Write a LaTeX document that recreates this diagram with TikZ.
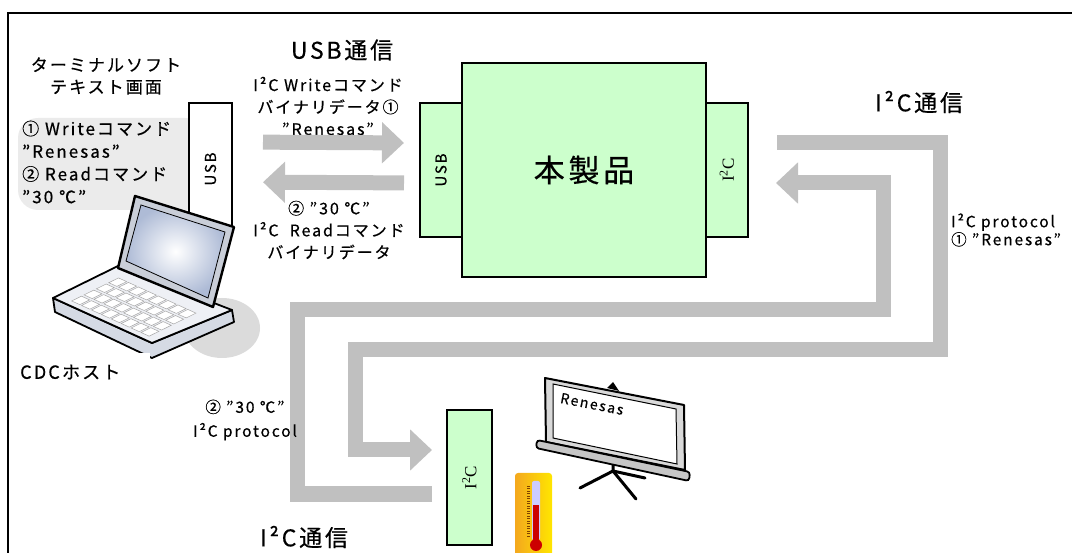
\documentclass[tikz,border=0pt]{standalone}
\usepackage{fontspec}
\setmainfont{Noto Sans CJK JP}[LetterSpace=12, FakeBold=0.5]
\newfontfamily\portserif{Liberation Serif}
\usetikzlibrary{arrows.meta}

\definecolor{boardgreen}{HTML}{CCFFCC}
\definecolor{flowgray}{HTML}{C0C0C0}
\definecolor{panelgray}{HTML}{EBEBEB}
\definecolor{deckgray}{HTML}{EEF0F5}
\definecolor{basegray}{HTML}{D5DAE4}
\definecolor{bezelgray}{HTML}{C9CED8}
\definecolor{screenblue}{HTML}{AEBBD6}
\definecolor{thermoorange}{HTML}{F4A81E}

\tikzset{
  port/.style={draw, line width=2pt, minimum width=42pt, minimum height=134pt, inner sep=0pt},
  flow/.style={draw=flowgray, line width=15pt, line join=miter,
    -{Triangle[width=40pt,length=22pt]}},
  lbl/.style={font=\fontsize{16}{22}\selectfont, align=center, inner sep=0pt},
  heading/.style={font=\fontsize{23}{26}\selectfont, inner sep=0pt},
}

\begin{document}
\begin{tikzpicture}[x=1pt,y=-1pt]
    \useasboundingbox (0,0) rectangle (1072,553);

    % Frame
    \draw[line width=1.8pt] (8,560) |- (1080,13);

    % Terminal window contents
    \node[lbl, font=\fontsize{17}{22}\selectfont] (term) at (106,76) {ターミナルソフト\\テキスト画面};
    \fill[panelgray, rounded corners=20pt] (18,118) rectangle (205,210);
    \node[lbl, anchor=west, align=left, font=\fontsize{17}{22.7}\selectfont] (cmds) at (22,162)
        {① Writeコマンド\\”Renesas”\\② Readコマンド\\”30 ℃”};
    \node[port, fill=white, minimum width=43pt, minimum height=132pt,
        label={[rotate=90, font=\fontsize{15}{16}\selectfont]center:USB}] (usbh) at (210.5,169) {};

    % Laptop
    \fill[gray!28] (222,328) ellipse (38 and 30);
    \filldraw[fill=basegray, line width=1.8pt, line join=round]
        (53,298) -- (55,312) -- (152,358) -- (234,322) -- (232,310) -- (152,343) -- cycle;
    \filldraw[fill=deckgray, line width=1.8pt, line join=round]
        (53,298) -- (152,343) -- (232,310) -- (118,266) -- cycle;
    \begin{scope}[shift={(53,298)}, x={(99pt,-45pt)}, y={(65pt,32pt)}]
        \foreach \i in {0,...,7}
            \foreach \j in {0,...,3}
                \filldraw[fill=white, draw=gray!70, line width=0.5pt]
                    ({0.13+\i*0.1},{0.09+\j*0.19}) -- ++(0.082,0) -- ++(0,0.15) -- ++(-0.082,0) -- cycle;
    \end{scope}
    \filldraw[fill=bezelgray, line width=2.4pt, line join=round]
        (118,268) -- (135,196) -- (234,227) -- (213,307) -- cycle;
    \shade[inner color=white, outer color=screenblue, draw=black, line width=0.8pt]
        (126,261) -- (141,205) -- (225,232) -- (208,298) -- cycle;
    \node[lbl, font=\fontsize{18}{20}\selectfont, fill=white, anchor=west, align=left,
        text width=130pt, minimum height=38pt] (host) at (20,372) {CDCホスト};

    % Board with its two ports
    \node[port, fill=boardgreen,
        label={[rotate=90, font=\fontsize{15}{16}\selectfont]center:USB}] (usbd) at (441,170) {};
    \node[port, fill=boardgreen,
        label={[rotate=90, font=\portserif\fontsize{17}{18}\selectfont]center:I\textsuperscript{2}C}] (i2cm) at (727,170) {};
    \node[port, fill=boardgreen, minimum width=244pt, minimum height=214pt,
        font=\fontsize{31}{32}\selectfont] (board) at (584,170) {本製品};

    % USB link
    \node[heading] (usbcom) at (342,50) {USB通信};
    \node[lbl] (wrcmd) at (328,106) {I²C Writeコマンド\\バイナリデータ①\\”Renesas”};
    \node[lbl] (rdcmd) at (329,230) {② ”30 ℃”\\I²C~~Readコマンド\\バイナリデータ};
    \draw[flow, shorten <=30pt, shorten >=15pt] ([yshift=27pt]usbh.east) -- ([yshift=27pt]usbd.west);
    \draw[flow, shorten <=15pt, shorten >=30pt] ([yshift=-13pt]usbd.west) -- ([yshift=-13pt]usbh.east);

    % Slave port
    \node[port, fill=boardgreen, minimum width=45pt, minimum height=135pt,
        label={[rotate=90, font=\portserif\fontsize{17}{18}\selectfont]center:I\textsuperscript{2}C}] (i2cs) at (469.5,477.5) {};

    % I2C links
    \coordinate (w1) at (940,350);
    \coordinate (w2) at (355,450);
    \coordinate (r1) at (297,310);
    \coordinate (r2) at (883,183);
    \draw[flow, shorten >=14pt] ([shift={(28,-27.5)}]i2cm.east) -| (w1) -| (w2) -- (i2cs.west |- w2);
    \draw[flow, shorten >=27pt] ([shift={(-14,16.5)}]i2cs.west) -| (r1) -| (r2) -- (i2cm.east |- r2);
    \node[heading] (i2ccom) at (919,102) {I²C通信};
    \node[heading] (i2ccomb) at (304,537) {I²C通信};
    \node[lbl, anchor=west, align=left, font=\fontsize{15.5}{18}\selectfont] (proto1) at (951,230)
        {I²C protocol\\① ”Renesas”};
    \node[lbl, font=\fontsize{15.5}{24}\selectfont] (proto2) at (245,420) {② ”30 ℃”\\I²C protocol};

    % Projector screen
    \draw[line width=3pt, line cap=round, line join=round] (580,488) -- (613,471) -- (636,499);
    \draw[line width=3pt, line cap=round] (613,462) -- (613,471) -- (645,478);
    \filldraw[fill=gray!30, line width=2pt, line join=round]
        (545,378) -- (684,405) -- (685,470) -- (546,442) -- cycle;
    \filldraw[fill=white, line width=1pt] (553,384) -- (676,409) -- (677,464) -- (553,438) -- cycle;
    \filldraw[fill=gray!45, line width=1.8pt, rounded corners=3pt]
        (537,440) -- (690,472) -- (689,481) -- (536,448) -- cycle;
    \fill (607,388) -- (613,382) -- (619,391) -- cycle;
    \node[rotate=-11, font=\fontsize{14}{15}\selectfont, inner sep=0pt] (scrtxt) at (592,404) {Renesas};

    % Thermometer
    \shade[left color=thermoorange, right color=yellow!80!orange, rounded corners=3pt]
        (515,473) rectangle (552,565);
    \fill[blue!20, rounded corners=2pt] (532,481) rectangle (540,540);
    \fill[red!80!black] (533,505) rectangle (539,540);
    \fill[red!80!black] (536,545) circle (6);
    \foreach \k in {0,...,20}
        \draw[orange!50!black, line width=0.3pt] (530,{486+\k*2.5}) -- ++(-3,0);
\end{tikzpicture}
\end{document}
